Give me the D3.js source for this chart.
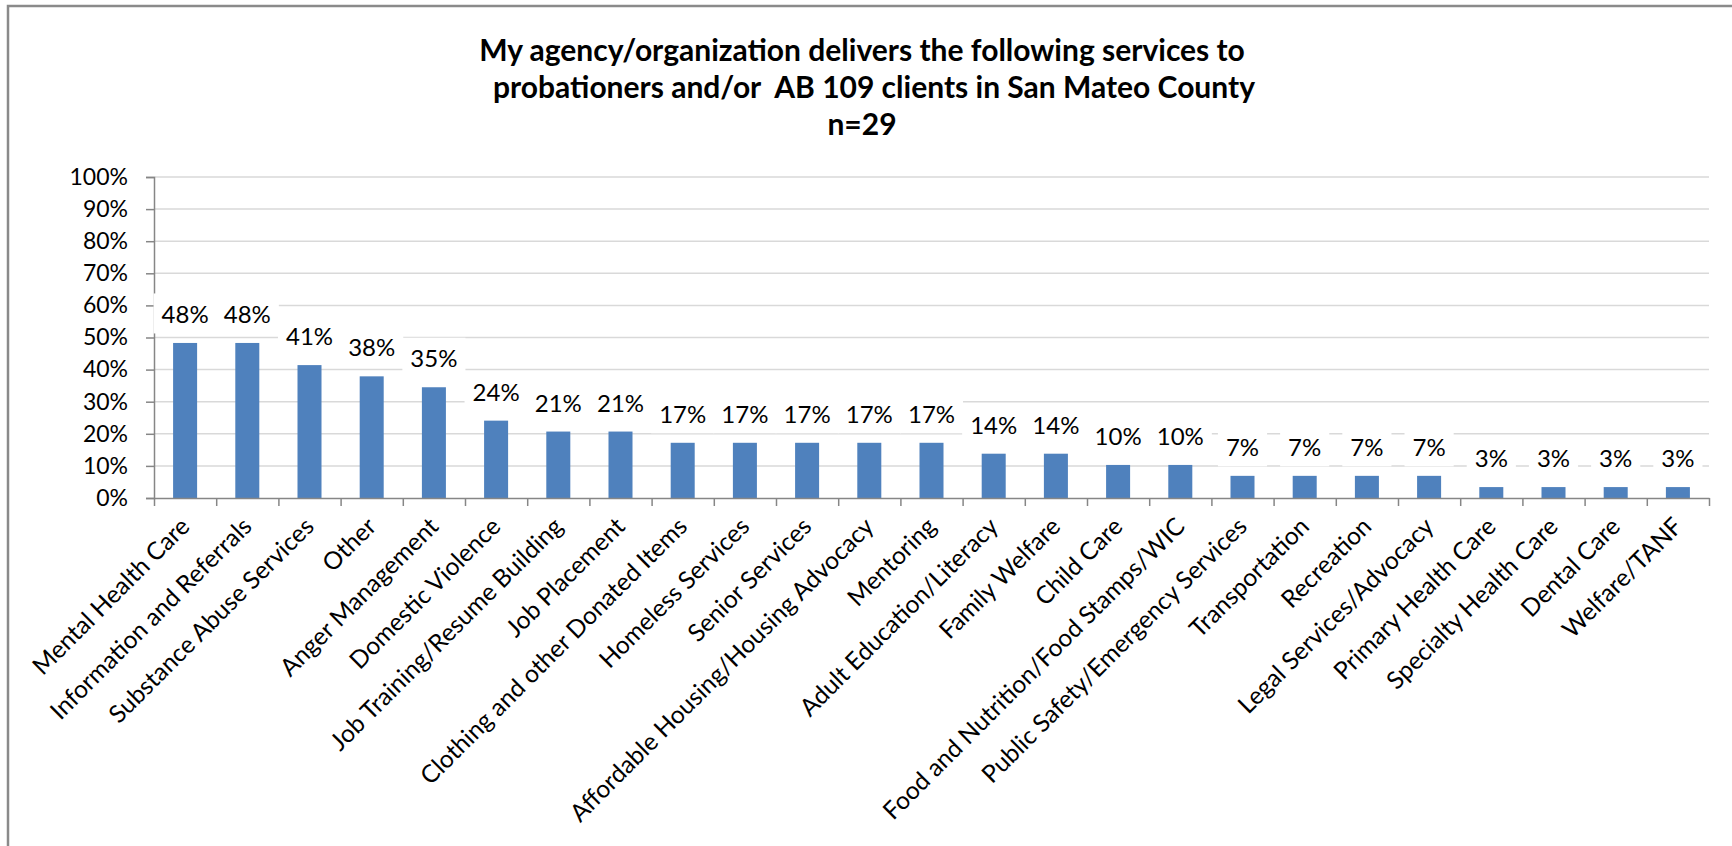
<!DOCTYPE html>
<html>
<head>
<meta charset="utf-8">
<script src="https://cdnjs.cloudflare.com/ajax/libs/d3/7.8.5/d3.min.js"></script>
<style>
  body { margin: 0; background: #fff; }
  svg { display: block; font-family: Lato, sans-serif; }
</style>
</head>
<body>
<svg id="chart" width="1732" height="846"></svg>
<script>
// services (x categories), in the order shown
var categories = [
  'Mental Health Care', 'Information and Referrals', 'Substance Abuse Services', 'Other',
  'Anger Management', 'Domestic Violence', 'Job Training/Resume Building', 'Job Placement',
  'Clothing and other Donated Items', 'Homeless Services', 'Senior Services',
  'Affordable Housing/Housing Advocacy', 'Mentoring', 'Adult Education/Literacy',
  'Family Welfare', 'Child Care', 'Food and Nutrition/Food Stamps/WIC',
  'Public Safety/Emergency Services', 'Transportation', 'Recreation',
  'Legal Services/Advocacy', 'Primary Health Care', 'Specialty Health Care',
  'Dental Care', 'Welfare/TANF'
]
// share of agencies, percent
var values = [48.3, 48.3, 41.4, 37.9, 34.5, 24.1, 20.7, 20.7, 17.2, 17.2, 17.2, 17.2, 17.2,
  13.8, 13.8, 10.3, 10.3, 6.9, 6.9, 6.9, 6.9, 3.4, 3.4, 3.4, 3.4]
var valueLabels = ['48%', '48%', '41%', '38%', '35%', '24%', '21%', '21%', '17%', '17%', '17%',
  '17%', '17%', '14%', '14%', '10%', '10%', '7%', '7%', '7%', '7%', '3%', '3%', '3%', '3%']
var yTicks = [0, 10, 20, 30, 40, 50, 60, 70, 80, 90, 100]
var titleLines = [
  'My agency/organization delivers the following services to',
  'probationers and/or  AB 109 clients in San Mateo County',
  'n=29'
]

var svg = d3.select('#chart')
var W = 1732
var margin = {top: 177, right: 23, bottom: 348, left: 154}
var width = W - margin.left - margin.right
var height = 846 - margin.top - margin.bottom

// chart frame (only left and top visible in the crop)
svg.append('path')
  .attr('d', 'M8,846 V6 H1732')
  .attr('fill', 'none')
  .attr('stroke', '#8a8a8a')
  .attr('stroke-width', 2.5)

// title
var titleShift = [-4, 8, -4]
svg.append('g').selectAll('text')
  .data(titleLines)
  .enter().append('text')
  .attr('x', (d, i) => W / 2 + titleShift[i])
  .attr('y', (d, i) => 61 + i * 37)
  .attr('text-anchor', 'middle')
  .attr('font-size', 30)
  .attr('font-weight', 'bold')
  .attr('fill', '#000')
  .style('white-space', 'pre')
  .text(d => d)

var g = svg.append('g')
  .attr('transform', 'translate(' + margin.left + ',' + margin.top + ')')

var x = d3.scaleBand().domain(categories).range([0, width])
  .paddingInner(0.614).paddingOuter(0.307)
var y = d3.scaleLinear().domain([0, 100]).range([height, 0])

// gridlines
g.append('g').selectAll('line')
  .data(yTicks.slice(1))
  .enter().append('line')
  .attr('x1', 0).attr('x2', width)
  .attr('y1', d => y(d)).attr('y2', d => y(d))
  .attr('stroke', '#d9d9d9')
  .attr('stroke-width', 1.5)

// y axis
var yAxisG = g.append('g')
  .attr('color', '#868686')
  .call(d3.axisLeft(y).tickValues(yTicks).tickFormat(d => d + '%')
    .tickSize(8).tickPadding(18))
yAxisG.select('.domain').attr('stroke-width', 1.5)
yAxisG.selectAll('.tick line').attr('stroke-width', 1.5)
yAxisG.selectAll('text')
  .attr('fill', '#000')
  .attr('font-size', 23)
  .attr('font-family', 'Lato, sans-serif')

// bars
g.append('g').selectAll('rect')
  .data(values)
  .enter().append('rect')
  .attr('x', (d, i) => x(categories[i]))
  .attr('y', d => y(d))
  .attr('width', x.bandwidth())
  .attr('height', d => height - y(d))
  .attr('fill', '#4f81bd')

// x axis: boundary ticks
var xb = d3.scaleLinear().domain([0, categories.length]).range([0, width])
var xAxisG = g.append('g')
  .attr('transform', 'translate(0,' + height + ')')
  .attr('color', '#868686')
  .call(d3.axisBottom(xb).ticks(categories.length).tickFormat('').tickSize(8).tickSizeOuter(0))
xAxisG.select('.domain').attr('stroke-width', 1.5)
xAxisG.selectAll('.tick line').attr('stroke-width', 1.5)

// category labels
var catG = g.append('g')
  .attr('transform', 'translate(0,' + height + ')')
  .call(d3.axisBottom(x).tickSize(0).tickPadding(0))
catG.select('.domain').remove()
catG.selectAll('text')
  .attr('fill', '#000')
  .attr('font-size', 24.5)
  .attr('font-family', 'Lato, sans-serif')
  .attr('text-anchor', 'end')
  .attr('dy', 0)
  .attr('y', 0)
  .attr('transform', 'translate(6,30) rotate(-45)')

// data labels with white boxes
var lab = g.append('g').selectAll('g')
  .data(values)
  .enter().append('g')
  .attr('transform', (d, i) => 'translate(' + (x(categories[i]) + x.bandwidth() / 2) + ',' + (y(d) - 20) + ')')
lab.append('text')
  .attr('text-anchor', 'middle')
  .attr('font-size', 24)
  .attr('fill', '#000')
  .text((d, i) => valueLabels[i])
lab.insert('rect', 'text')
  .each(function () {
    var bb = this.nextSibling.getBBox()
    d3.select(this)
      .attr('x', bb.x - 8)
      .attr('y', bb.y + bb.height / 2 - 20)
      .attr('width', bb.width + 16)
      .attr('height', 40)
      .attr('fill', '#fff')
  })
</script>
</body>
</html>
